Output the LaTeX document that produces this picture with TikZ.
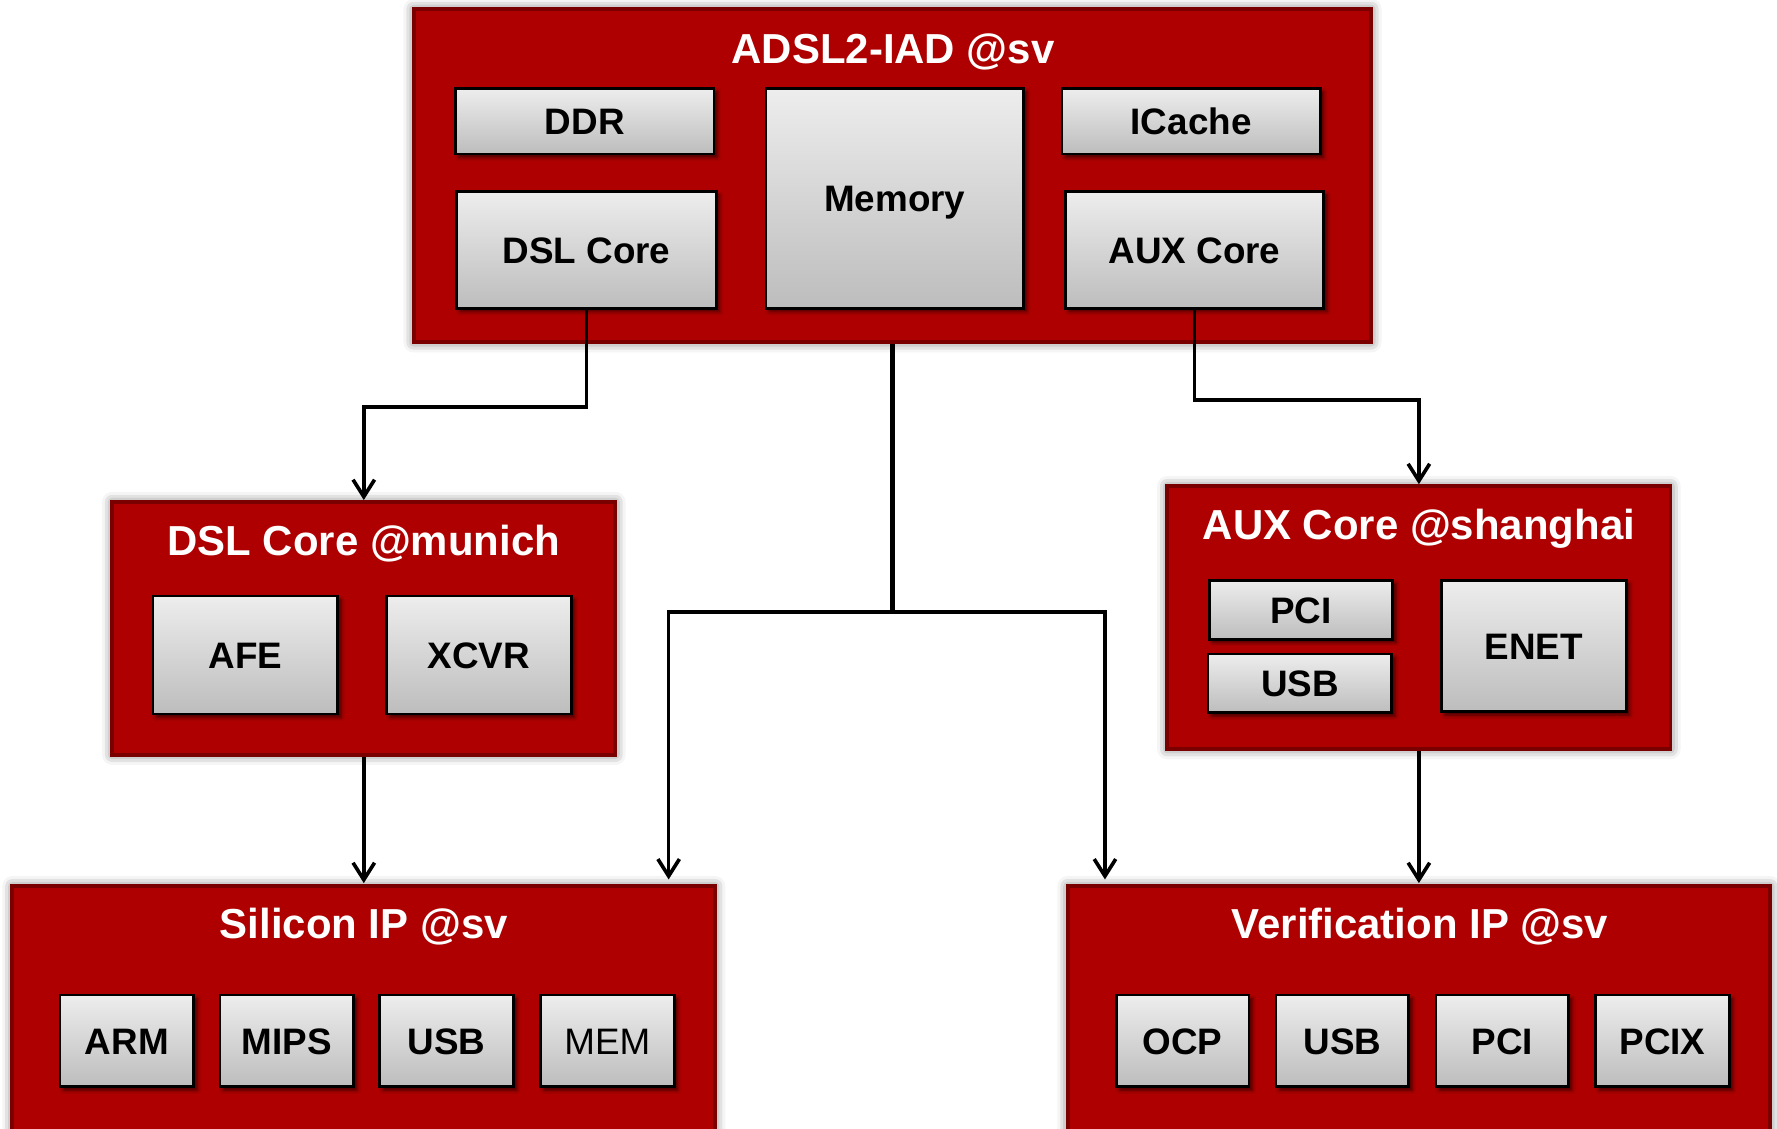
\documentclass[tikz,border=0pt]{standalone}
\usepackage{fontspec}
\setmainfont{Liberation Sans}
\usetikzlibrary{arrows.meta,shadows.blur,calc}
\definecolor{boxred}{RGB}{174,0,0}
\definecolor{boxedge}{RGB}{122,0,0}
\begin{document}
\begin{tikzpicture}[x=1pt,y=-1pt,
  outer/.style={draw=boxedge, line width=3.5pt, fill=boxred, inner sep=0pt,
    blur shadow={shadow xshift=0pt, shadow yshift=0pt, shadow blur radius=9pt, shadow opacity=60}},
  title/.style={text=white, font=\fontsize{37}{40}\selectfont\bfseries, inner sep=0pt, text height=26.5pt, text depth=0pt},
  block/.style={draw=black, line width=2.4pt, top color=black!7, bottom color=black!26, inner sep=0pt,
    text height=23.5pt, text depth=0pt, font=\fontsize{32.5}{35}\selectfont\bfseries,
    blur shadow={shadow xshift=3pt, shadow yshift=-3pt, shadow blur radius=3pt, shadow opacity=60}},
  conn/.style={line width=3.2pt, -{Straight Barb[length=15pt, width=19pt, line width=3.2pt]}},
  trunk/.style={line width=3.8pt}
]
\useasboundingbox (0,0) rectangle (1568,996);

% ---- top block
\node[outer, minimum width=845pt, minimum height=294pt] (T) at (787.5,155) {};
\node[title] (Tt) at (788,42.5) {ADSL2-IAD @sv};
\node[block, minimum width=228pt, minimum height=58pt] (ddr) at (516,107) {DDR};
\node[block, minimum width=229pt, minimum height=103pt] (dc) at (517.5,220.5) {DSL Core};
\node[block, minimum width=227pt, minimum height=194pt] (mem) at (789.5,175) {Memory};
\node[block, minimum width=228pt, minimum height=58pt] (ic) at (1051,107) {ICache};
\node[block, minimum width=228pt, minimum height=103pt] (ac) at (1054,220.5) {AUX Core};

% ---- DSL Core @munich
\node[outer, minimum width=444pt, minimum height=223pt] (D) at (321,554.5) {};
\node[title] (Dt) at (321,476.5) {DSL Core @munich};
\node[block, minimum width=163pt, minimum height=104pt] (afe) at (216.5,578) {AFE};
\node[block, minimum width=163pt, minimum height=104pt] (xcvr) at (422.5,578) {XCVR};

% ---- AUX Core @shanghai
\node[outer, minimum width=444pt, minimum height=232pt] (A) at (1252,545) {};
\node[title] (At) at (1252,462.5) {AUX Core @shanghai};
\node[block, minimum width=162pt, minimum height=52pt] (apci) at (1148,538) {PCI};
\node[block, minimum width=162pt, minimum height=52pt] (ausb) at (1147,603) {USB};
\node[block, minimum width=163pt, minimum height=116pt] (enet) at (1353.5,570) {ENET};

% ---- Silicon IP @sv
\node[outer, minimum width=620pt, minimum height=260pt] (S) at (321,912) {};
\node[title] (St) at (321,815) {Silicon IP @sv};
\node[block, minimum width=118pt, minimum height=81pt] (arm) at (112,918.5) {ARM};
\node[block, minimum width=118pt, minimum height=81pt] (mips) at (253,918.5) {MIPS};
\node[block, minimum width=118pt, minimum height=81pt] (susb) at (394,918.5) {USB};
\node[block, minimum width=118pt, minimum height=81pt, font=\fontsize{32.5}{35}\selectfont\mdseries] (smem) at (536,918.5) {MEM};

% ---- Verification IP @sv
\node[outer, minimum width=620pt, minimum height=260pt] (V) at (1252,912) {};
\node[title] (Vt) at (1253,815) {Verification IP @sv};
\node[block, minimum width=117pt, minimum height=81pt] (ocp) at (1043.5,918.5) {OCP};
\node[block, minimum width=117pt, minimum height=81pt] (vusb) at (1184.5,918.5) {USB};
\node[block, minimum width=117pt, minimum height=81pt] (vpci) at (1325.5,918.5) {PCI};
\node[block, minimum width=118pt, minimum height=81pt] (pcix) at (1467,918.5) {PCIX};

% ---- connectors
\coordinate (j) at (787.5,540);
\coordinate (sa) at (590,776);
\coordinate (va) at (975,776);
\draw[conn] (dc.south) -- ++(0,86) -| (D.north);
\draw[conn] (ac.south) -- ++(0,80) -| (A.north);
\draw[trunk] (T.south) -- (j);
\draw[conn] (j) -| (sa);
\draw[conn] (j) -| (va);
\draw[conn, shorten >=1pt] (D.south) -- (S.north);
\draw[conn, shorten >=1pt] (A.south) -- (V.north);
\end{tikzpicture}
\end{document}
